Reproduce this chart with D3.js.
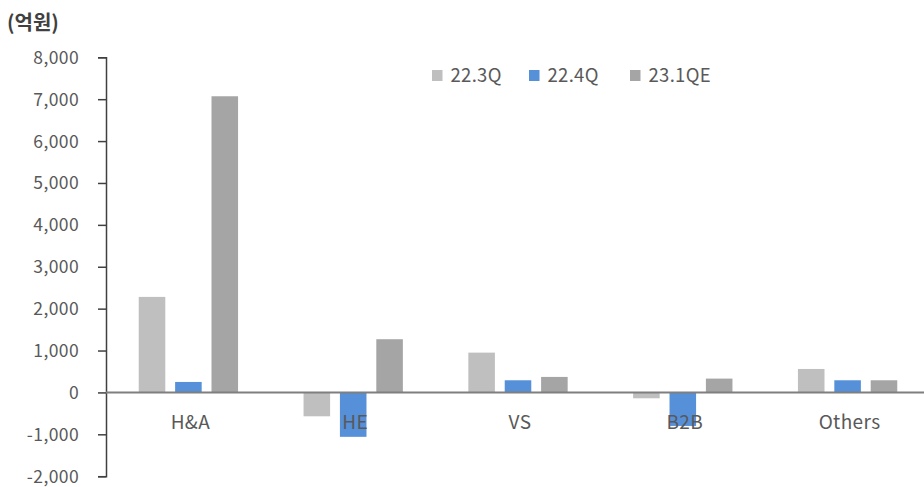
<!DOCTYPE html>
<html>
<head>
<meta charset="utf-8">
<script src="https://cdn.jsdelivr.net/npm/d3@7/dist/d3.min.js"></script>
<style>
  html, body { margin: 0; padding: 0; background: #fff; }
  svg { display: block; }
  text { font-family: "Noto Sans CJK KR", "Noto Sans", sans-serif; }
</style>
</head>
<body>
<svg id="chart" width="924" height="487"></svg>
<script>
// Segment operating profit by quarter (unit: 억원)
const categories = ["H&A", "HE", "VS", "B2B", "Others"];
const seriesNames = ["22.3Q", "22.4Q", "23.1QE"];
const q223 = [2280, -570, 950, -140, 560];
const q224 = [250, -1060, 290, -800, 290];
const q231e = [7070, 1270, 370, 330, 290];
const yTicks = [-2000, -1000, 0, 1000, 2000, 3000, 4000, 5000, 6000, 7000, 8000];
const colors = ["#bfbfbf", "#5590d9", "#a5a5a5"];

const seriesValues = [q223, q224, q231e];

const svg = d3.select("#chart");
const axisX = 106;
const latin = "'Noto Sans', sans-serif";

const y = d3.scaleLinear().domain([-2000, 8000]).range([476.2, 57.3]);
const x0 = d3.scaleBand().domain(categories).range([axisX, 930]).paddingInner(0).paddingOuter(0);
const x1 = d3.scaleBand().domain(seriesNames).range([0, x0.bandwidth()]).paddingInner(0.27).paddingOuter(0.9);

// bars
const groups = svg.append("g").selectAll("g")
  .data(categories)
  .join("g")
  .attr("transform", d => `translate(${x0(d)},0)`);

groups.selectAll("rect")
  .data((d, i) => seriesNames.map((s, j) => ({ s, v: seriesValues[j][i], c: colors[j] })))
  .join("rect")
  .attr("x", d => x1(d.s))
  .attr("width", x1.bandwidth())
  .attr("y", d => y(Math.max(0, d.v)))
  .attr("height", d => Math.abs(y(d.v) - y(0)))
  .attr("fill", d => d.c);

// y axis (plain hyphen for negatives)
const comma = d3.format(",");
const yAxis = d3.axisLeft(y)
  .tickValues(yTicks)
  .tickSize(8)
  .tickPadding(19)
  .tickFormat(d => (d < 0 ? "-" : "") + comma(Math.abs(d)));

const gy = svg.append("g")
  .attr("transform", `translate(${axisX},0)`)
  .call(yAxis);
gy.select(".domain").attr("stroke", "#404040").attr("stroke-width", 1.5);
gy.selectAll(".tick line").attr("stroke", "#404040").attr("stroke-width", 1.5);
gy.selectAll(".tick text")
  .attr("fill", "#595959")
  .attr("dy", "0.34em")
  .style("font-size", "17.5px")
  .style("letter-spacing", "0.4px")
  .attr("font-family", latin);

// zero baseline
svg.append("line")
  .attr("x1", axisX).attr("x2", 924)
  .attr("y1", y(0)).attr("y2", y(0))
  .attr("stroke", "#7f7f7f").attr("stroke-width", 2);

// category labels
svg.append("g").selectAll("text")
  .data(categories)
  .join("text")
  .attr("x", d => x0(d) + x0.bandwidth() / 2 + 2)
  .attr("y", 428.5)
  .attr("text-anchor", "middle")
  .attr("fill", "#595959")
  .style("font-size", "19px")
  .style("letter-spacing", "0.4px")
  .attr("font-family", latin)
  .text(d => d);

// unit title
svg.append("text")
  .attr("x", 7).attr("y", 30)
  .attr("fill", "#404040")
  .style("font-size", "20px")
  .style("font-weight", "bold")
  .text("(억원)");

// legend
const legendX = [432, 529, 630];
const legend = svg.append("g").selectAll("g")
  .data(seriesNames)
  .join("g")
  .attr("transform", (d, i) => `translate(${legendX[i]},75.5)`);
legend.append("rect")
  .attr("x", 0).attr("y", -5.5)
  .attr("width", 10.5).attr("height", 11)
  .attr("fill", (d, i) => colors[i]);
legend.append("text")
  .attr("x", 18.5).attr("y", 6.5)
  .attr("fill", "#595959")
  .style("font-size", "18.5px")
  .style("letter-spacing", "0.3px")
  .attr("font-family", latin)
  .text(d => d);
</script>
</body>
</html>
